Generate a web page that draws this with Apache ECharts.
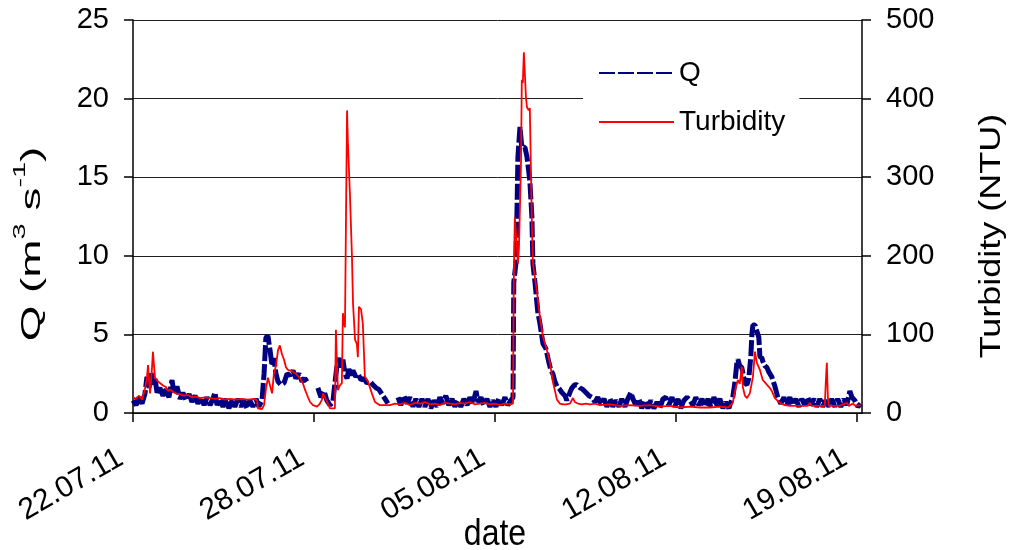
<!DOCTYPE html>
<html>
<head>
<meta charset="utf-8">
<script src="https://cdn.jsdelivr.net/npm/echarts@6/dist/echarts.min.js"></script>
<style>
  html, body { margin: 0; padding: 0; background: #fff; }
  #chart { width: 1015px; height: 550px; }
</style>
</head>
<body>
<div id="chart"></div>
<script>
// Time is counted in days from 22.07.11; date labels sit every 7 days.
const tickDays = [0, 7, 14, 21, 28];
const tickLabels = ['22.07.11', '28.07.11', '05.08.11', '12.08.11', '19.08.11'];

// Discharge Q (m3 s-1); null marks a gap in the record
const qTime = [
  0.00, 0.12, 0.23, 0.35, 0.46, 0.54, 0.62, 0.70, 0.77, 0.85, 0.93, 1.04, 1.16, 1.28, 1.39, 1.51, 1.59, 1.70, 1.82, 1.93,
  2.05, 2.17, 2.28, 2.40, 2.51, 2.63, 2.75, 2.86, 2.98, 3.09, 3.17, 3.25, 3.36, 3.48, 3.60, 3.71, 3.83, 3.94, 4.06, 4.18,
  4.29, 4.41, 4.52, 4.64, 4.76, 4.87, 4.99, 5.07, 5.14, 5.22, 5.30, 5.38, 5.45, 5.53, 5.61, 5.72, 5.84, 5.96, 6.07, 6.19,
  6.30, 6.42, 6.54, 6.65, 6.73, 6.85, 7.15, 7.27, 7.39, 7.50, 7.62, 7.73, 7.81, 7.89, 7.97, 8.04, 8.12, 8.20, 8.28, 8.35,
  8.43, 8.51, 8.62, 8.70, 8.82, 8.93, 9.05, 9.17, 9.28, 9.40, 9.51, 9.63, 9.75, 9.86, 10.00, 10.25, 10.36, 10.48, 10.60, 10.71,
  10.83, 10.94, 11.06, 11.18, 11.29, 11.41, 11.52, 11.64, 11.76, 11.87, 11.99, 12.10, 12.22, 12.34, 12.45, 12.57, 12.68, 12.80, 12.92, 13.03,
  13.15, 13.27, 13.34, 13.46, 13.57, 13.69, 13.81, 13.92, 14.04, 14.15, 14.27, 14.39, 14.50, 14.62, 14.70, 14.73, 14.81, 14.85, 14.89, 14.97,
  15.04, 15.16, 15.24, 15.35, 15.43, 15.47, 15.55, 15.66, 15.74, 15.86, 15.97, 16.09, 16.17, 16.24, 16.32, 16.40, 16.51, 16.59, 16.71, 16.78,
  16.90, 16.98, 17.09, 17.17, 17.29, 17.40, 17.52, 17.64, 17.75, 17.87, 17.98, 18.10, 18.22, 18.33, 18.45, 18.56, 18.68, 18.80, 18.91, 19.03,
  19.14, 19.26, 19.34, 19.45, 19.57, 19.68, 19.80, 19.92, 20.03, 20.15, 20.27, 20.38, 20.50, 20.61, 20.73, 20.85, 20.96, 21.08, 21.19, 21.31,
  21.43, 21.54, 21.66, 21.77, 21.89, 22.01, 22.12, 22.24, 22.35, 22.47, 22.59, 22.70, 22.82, 22.93, 23.05, 23.13, 23.20, 23.28, 23.36, 23.40,
  23.47, 23.55, 23.63, 23.67, 23.75, 23.82, 23.90, 23.94, 23.98, 24.06, 24.13, 24.21, 24.25, 24.33, 24.36, 24.44, 24.52, 24.60, 24.71, 24.79,
  24.83, 24.91, 24.94, 25.06, 25.18, 25.29, 25.41, 25.52, 25.64, 25.76, 25.87, 25.99, 26.10, 26.22, 26.34, 26.45, 26.57, 26.68, 26.80, 26.92,
  27.03, 27.15, 27.26, 27.38, 27.50, 27.61, 27.73, 27.81, 27.92, 28.04, 28.15
];
const qValue = [
  0.8, 0.5, 1.0, 0.6, 1.2, 2.3, 1.6, 2.6, 1.8, 2.2, 1.3, 1.6, 1.1, 1.5, 1.0, 2.1, 1.2, 1.7, 0.9, 1.3,
  0.8, 1.2, 0.7, 1.1, 0.6, 1.0, 0.5, 1.0, 0.5, 0.9, 1.3, 0.5, 0.9, 0.4, 0.9, 0.3, 0.8, 0.4, 0.9, 0.4,
  0.8, 0.3, 0.8, 0.4, 0.9, 0.4, 0.8, 2.5, 4.8, 4.9, 4.0, 3.0, 3.5, 2.5, 2.0, 1.8, 1.9, 2.5, 2.4, 2.7,
  2.2, 2.5, 2.0, 2.2, 2.0, null, 1.6, 1.0, 1.4, 0.8, 0.5, 0.7, 1.9, 3.0, 3.5, 2.9, 3.4, 2.5, 2.2, 2.8,
  2.4, 2.7, 2.3, 2.5, 2.1, 2.2, 1.9, 2.0, 1.8, 1.6, 1.5, 1.2, 0.9, 0.6, null, 1.0, 0.5, 1.1, 0.6, 1.0,
  0.4, 0.9, 0.4, 0.9, 0.4, 0.9, 0.3, 0.8, 0.4, 1.0, 0.6, 1.1, 0.5, 0.9, 0.4, 0.8, 0.4, 0.9, 0.5, 1.0,
  0.6, 1.4, 0.7, 1.0, 0.5, 0.9, 0.4, 0.8, 0.4, 0.9, 0.5, 1.0, 0.5, 0.8, 1.0, 8.3, 9.5, 12.5, 16.3, 18.2,
  16.9, 16.9, 16.3, 14.8, 12.5, 9.5, 8.3, 6.4, 5.7, 4.4, 4.1, 3.2, 2.7, 2.5, 2.0, 1.7, 1.5, 1.3, 1.1, 0.8,
  1.3, 1.6, 1.8, 1.8, 1.6, 1.5, 1.3, 1.1, 1.0, 0.7, 1.0, 0.6, 0.9, 0.4, 0.9, 0.4, 0.8, 0.4, 0.9, 0.4,
  0.9, 1.3, 0.9, 0.5, 0.9, 0.3, 0.8, 0.3, 0.8, 0.3, 0.7, 0.3, 0.9, 1.0, 0.5, 1.0, 0.4, 0.9, 0.3, 0.8,
  1.0, 0.8, 0.5, 1.0, 0.5, 0.9, 0.4, 0.9, 0.4, 1.0, 0.5, 0.9, 0.3, 0.7, 0.3, 0.7, 1.0, 1.9, 3.2, 3.4,
  3.0, 2.9, 2.2, 1.9, 1.8, 2.2, 3.6, 5.0, 5.6, 5.6, 5.5, 4.8, 3.6, 3.5, 3.3, 3.0, 2.9, 2.6, 2.3, 1.9,
  1.7, 1.2, 1.0, 0.6, 1.0, 0.5, 1.0, 0.5, 0.9, 0.4, 0.9, 0.5, 1.0, 0.5, 0.9, 0.4, 0.9, 0.4, 0.8, 0.4,
  0.9, 0.4, 0.9, 0.4, 0.9, 0.5, 1.4, 1.0, 0.8, 0.4, 0.6
];

// Turbidity (NTU)
const turbTime = [
  0.00, 0.12, 0.23, 0.35, 0.46, 0.54, 0.58, 0.66, 0.73, 0.77, 0.85, 0.97, 1.04, 1.16, 1.28, 1.35, 1.43, 1.55, 1.66, 1.82,
  1.97, 2.13, 2.28, 2.44, 2.59, 2.78, 2.98, 3.17, 3.36, 3.56, 3.75, 3.98, 4.22, 4.45, 4.68, 4.80, 4.83, 4.99, 5.07, 5.14,
  5.22, 5.30, 5.38, 5.45, 5.53, 5.61, 5.68, 5.76, 5.84, 5.92, 5.99, 6.15, 6.30, 6.46, 6.57, 6.65, 6.77, 6.85, 6.96, 7.12,
  7.23, 7.31, 7.35, 7.43, 7.50, 7.62, 7.73, 7.81, 7.85, 7.89, 7.93, 8.00, 8.08, 8.12, 8.16, 8.20, 8.24, 8.28, 8.31, 8.39,
  8.47, 8.51, 8.59, 8.66, 8.70, 8.74, 8.82, 8.89, 8.97, 9.09, 9.24, 9.36, 9.55, 9.94, 10.13, 10.33, 10.52, 10.71, 10.91, 11.10,
  11.29, 11.49, 11.68, 11.87, 12.07, 12.26, 12.45, 12.65, 12.84, 13.03, 13.23, 13.42, 13.61, 13.81, 14.00, 14.19, 14.39, 14.58, 14.70, 14.73,
  14.77, 14.85, 14.89, 14.93, 15.01, 15.04, 15.08, 15.12, 15.20, 15.24, 15.31, 15.35, 15.43, 15.47, 15.62, 15.74, 15.86, 16.01, 16.13, 16.24,
  16.40, 16.51, 16.63, 16.75, 16.90, 17.02, 17.09, 17.21, 17.36, 17.52, 17.67, 17.87, 18.06, 18.45, 18.83, 19.22, 19.61, 19.99, 20.38, 20.77,
  21.15, 21.54, 21.93, 22.31, 22.70, 23.01, 23.09, 23.20, 23.32, 23.40, 23.47, 23.55, 23.59, 23.67, 23.75, 23.86, 23.98, 24.06, 24.13, 24.25,
  24.36, 24.52, 24.63, 24.71, 24.83, 25.02, 25.21, 25.41, 25.79, 26.10, 26.18, 26.26, 26.57, 26.76, 26.80, 26.84, 26.88, 26.92, 27.15, 27.34,
  27.61, 27.69, 27.84, 27.96, 28.15
];
const turbValue = [
  20, 18, 22, 17, 30, 45, 61, 25, 55, 78, 45, 40, 42, 35, 33, 28, 30, 27, 25, 24,
  22, 23, 20, 21, 19, 20, 19, 18, 19, 17, 18, 17, 18, 17, 18, 16, 6, 5, 10, 30,
  45, 35, 25, 50, 60, 80, 86, 75, 68, 58, 55, 53, 50, 44, 38, 30, 20, 14, 10, 8,
  12, 17, 25, 20, 18, 6, 6, 6, 106, 60, 29, 35, 38, 127, 115, 109, 250, 385, 347, 280,
  199, 140, 93, 88, 71, 135, 132, 114, 46, 40, 25, 14, 10, 10, 12, 11, 13, 10, 13, 12,
  14, 11, 12, 10, 13, 12, 11, 13, 12, 14, 11, 12, 13, 11, 12, 10, 12, 11, 12, 165,
  249, 211, 190, 210, 318, 424, 420, 459, 402, 389, 385, 388, 242, 190, 156, 122, 97, 80, 64, 40,
  17, 12, 11, 11, 12, 19, 14, 12, 11, 12, 11, 12, 10, 11, 9, 10, 9, 10, 8, 9,
  7, 8, 7, 7, 8, 7, 9, 13, 33, 42, 37, 59, 33, 22, 19, 25, 46, 78, 64, 55,
  42, 36, 32, 28, 19, 13, 10, 9, 9, 9, 13, 9, 9, 9, 40, 64, 20, 9, 9, 9,
  13, 9, 12, 9, 10
];

const qData = qTime.map((t, i) => [t, qValue[i]]);
const turbData = turbTime.map((t, i) => [t, turbValue[i]]);

const FONT = '"Liberation Sans", Arial, sans-serif';
const chart = echarts.init(document.getElementById('chart'), null, { renderer: 'canvas' });

chart.setOption({
  animation: false,
  backgroundColor: '#ffffff',
  textStyle: { fontFamily: FONT, color: '#000' },
  grid: { left: 133, right: 153, top: 20, bottom: 137, containLabel: false, outerBoundsMode: 'none' },
  // Axis titles, drawn tall and narrow like the original typesetting
  graphic: [
    {
      type: 'text',
      x: 29,
      y: 244,
      rotation: Math.PI / 2,
      scaleX: 1.7,
      style: {
        text: '{n|Q (m}{sup|3}{n| s}{sup|-1}{n|)}',
        align: 'center',
        verticalAlign: 'middle',
        fill: '#000',
        rich: {
          n: { fontFamily: FONT, fontSize: 27, fill: '#000', verticalAlign: 'bottom', padding: [8, 0, 0, 0] },
          sup: { fontFamily: FONT, fontSize: 17, fill: '#000', verticalAlign: 'top' }
        }
      }
    },
    {
      type: 'text',
      x: 992,
      y: 236,
      rotation: Math.PI / 2,
      scaleX: 1.2,
      style: {
        text: 'Turbidity (NTU)',
        align: 'center',
        verticalAlign: 'middle',
        fill: '#000',
        fontFamily: FONT,
        fontSize: 30
      }
    },
    {
      type: 'text',
      x: 495,
      y: 535,
      scaleY: 1.15,
      style: {
        text: 'date',
        align: 'center',
        verticalAlign: 'middle',
        fill: '#000',
        fontFamily: FONT,
        fontSize: 32
      }
    }
  ],
  legend: {
    orient: 'vertical',
    left: 583,
    top: 49,
    backgroundColor: '#ffffff',
    padding: [10, 14, 10, 15],
    itemWidth: 75,
    itemHeight: 14,
    itemGap: 21,
    itemStyle: { opacity: 0 },
    textStyle: { fontFamily: FONT, fontSize: 28, color: '#000' },
    data: ['Q', 'Turbidity']
  },
  xAxis: {
    type: 'value',
    min: 0,
    max: 28.2,
    interval: 7,
    axisLine: { show: true, onZero: false, lineStyle: { color: '#000', width: 1.5 } },
    axisTick: { show: true, inside: false, length: 9, customValues: tickDays, lineStyle: { color: '#000', width: 1.5 } },
    axisLabel: {
      customValues: tickDays,
      rotate: 30,
      margin: 36,
      padding: [0, 14, 0, 0],
      fontFamily: FONT,
      fontSize: 30,
      color: '#000',
      formatter: v => {
        const i = tickDays.indexOf(Math.round(v));
        return i >= 0 ? tickLabels[i] : '';
      }
    },
    splitLine: { show: false }
  },
  yAxis: [
    {
      type: 'value',
      min: 0,
      max: 25,
      interval: 5,
      position: 'left',
      axisLine: { show: true, lineStyle: { color: '#000', width: 1.5 } },
      axisTick: { show: true, inside: false, length: 9, lineStyle: { color: '#000', width: 1.5 } },
      axisLabel: { margin: 24, fontFamily: FONT, fontSize: 29, color: '#000' },
      splitLine: { show: true, lineStyle: { color: '#202020', width: 1 } }
    },
    {
      type: 'value',
      min: 0,
      max: 500,
      interval: 100,
      position: 'right',
      axisLine: { show: true, lineStyle: { color: '#000', width: 1.5 } },
      axisTick: { show: true, inside: false, length: 9, lineStyle: { color: '#000', width: 1.5 } },
      axisLabel: { margin: 24, fontFamily: FONT, fontSize: 29, color: '#000' },
      splitLine: { show: false }
    }
  ],
  series: [
    {
      name: 'Q',
      type: 'line',
      yAxisIndex: 0,
      data: qData,
      showSymbol: false,
      symbol: 'none',
      connectNulls: false,
      lineStyle: { color: '#000080', width: 5, type: [16, 3] },
      itemStyle: { color: '#000080' },
      z: 2
    },
    {
      name: 'Turbidity',
      type: 'line',
      yAxisIndex: 1,
      data: turbData,
      showSymbol: false,
      symbol: 'none',
      lineStyle: { color: '#ff0000', width: 1.8 },
      itemStyle: { color: '#ff0000' },
      z: 3
    }
  ]
});
</script>
</body>
</html>
